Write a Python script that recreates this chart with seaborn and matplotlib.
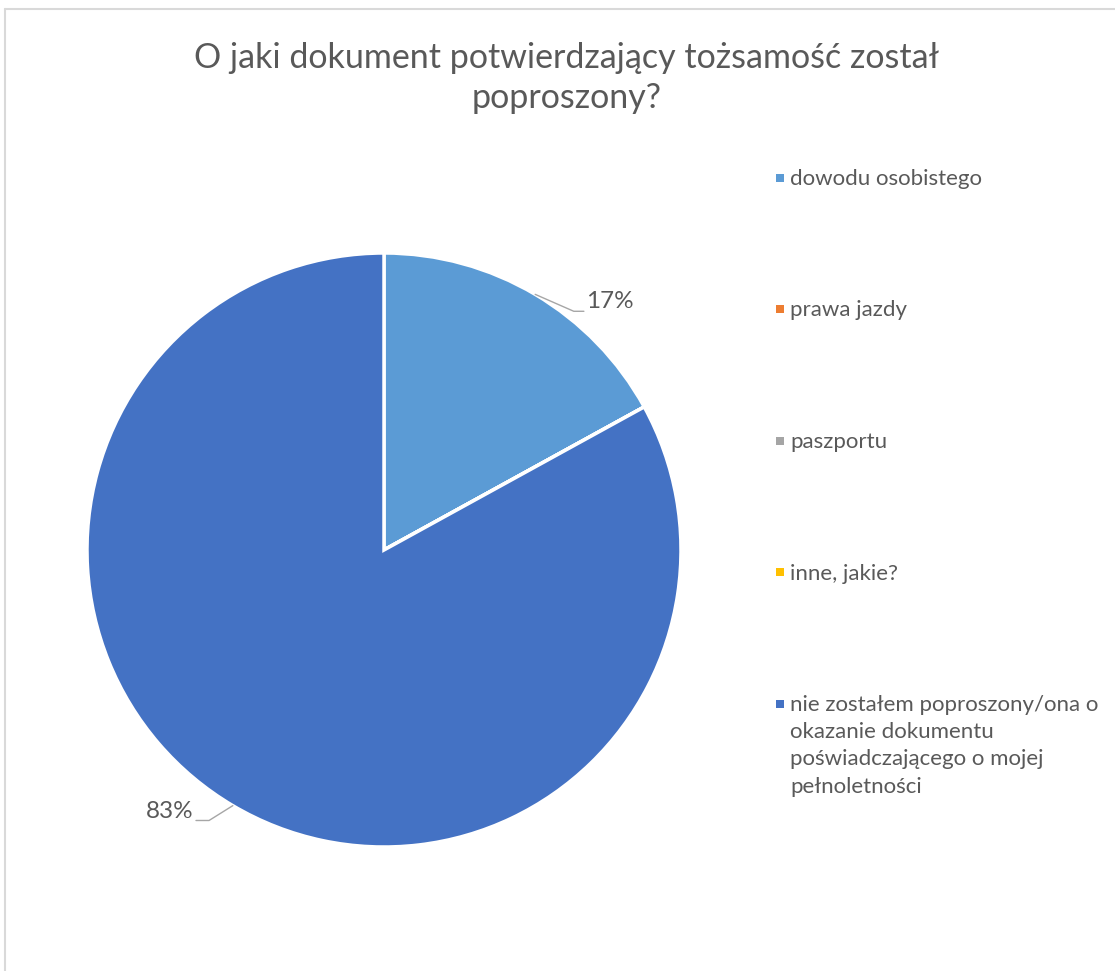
import textwrap
import numpy as np
import matplotlib
matplotlib.use("Agg")
import matplotlib.pyplot as plt
from matplotlib.lines import Line2D
from matplotlib.patches import Rectangle
import seaborn as sns

# ---- data ----
title = "O jaki dokument potwierdzający tożsamość został\npoproszony?"
categories = [
    "dowodu osobistego",
    "prawa jazdy",
    "paszportu",
    "inne, jakie?",
    "nie zostałem poproszony/ona o okazanie dokumentu poświadczającego o mojej pełnoletności",
]
values = [17, 0, 0, 0, 83]
colors = ["#5B9BD5", "#ED7D31", "#A5A5A5", "#FFC000", "#4472C4"]

sns.set_theme(style="white")
sns.set_palette(colors)
plt.rcParams["font.family"] = ["Lato", "DejaVu Sans"]
TXT = "#595959"

W, H = 1115, 971
fig = plt.figure(figsize=(W / 100, H / 100), dpi=100)
fig.patch.set_facecolor("white")

# pie axes: centre (384,550) px, radius 297 px
cx, cy, R = 384, 550, 297
lim = 1.2
side = 2 * R * lim
ax = fig.add_axes([(cx - side / 2) / W, (H - cy - side / 2) / H, side / W, side / H])
wedges, _ = ax.pie(values, colors=sns.color_palette(colors), startangle=90,
                   counterclock=False, radius=1,
                   wedgeprops=dict(edgecolor="white", linewidth=2.5))
ax.set_xlim(-lim, lim)
ax.set_ylim(-lim, lim)
ax.set_aspect("equal")
ax.axis("off")

# data labels with leader lines (elbow offset, horizontal length, side)
total = sum(values)
label_style = {0: (0.13, -0.057, 0.034, 1), 4: (-0.08, -0.05, 0.044, -1)}
for i, w in enumerate(wedges):
    if values[i] == 0:
        continue
    mid = np.deg2rad((w.theta1 + w.theta2) / 2)
    x0, y0 = np.cos(mid), np.sin(mid)
    ddx, ddy, hl, side_ = label_style[i]
    ex, ey = x0 + ddx, y0 + ddy
    lx = ex + side_ * hl
    ax.plot([x0, ex, lx], [y0, ey, ey], color="#A6A6A6", lw=1.0, clip_on=False)
    ax.text(lx + side_ * 0.008, ey - 0.004,
            f"{round(values[i] / total * 100)}%",
            ha="left" if side_ > 0 else "right", va="bottom",
            fontsize=17.5, color=TXT)

# title
fig.text(567 / W, 1 - 78 / H, title, ha="center", va="center", fontsize=24.5,
         color=TXT, linespacing=1.3)

# legend (manual, evenly spaced)
y_first = 178
step = 131.5
for i, (lab, col) in enumerate(zip(categories, colors)):
    y = y_first + i * step
    fig.patches.append(Rectangle((776 / W, 1 - (y + 4) / H), 8 / W, 8 / H,
                                 transform=fig.transFigure, facecolor=col,
                                 edgecolor="none"))
    fig.text(790 / W, 1 - (y - 9) / H, "\n".join(textwrap.wrap(lab, 29)),
             ha="left", va="top", fontsize=16, color=TXT, linespacing=1.45)

# chart border (left and top visible)
fig.add_artist(Line2D([4.5 / W, 4.5 / W], [0, 1 - 9 / H], transform=fig.transFigure,
                      color="#D9D9D9", lw=1.5))
fig.add_artist(Line2D([4.5 / W, 1], [1 - 9 / H, 1 - 9 / H], transform=fig.transFigure,
                      color="#D9D9D9", lw=1.5))

fig.savefig("out.png", dpi=100, facecolor="white")
